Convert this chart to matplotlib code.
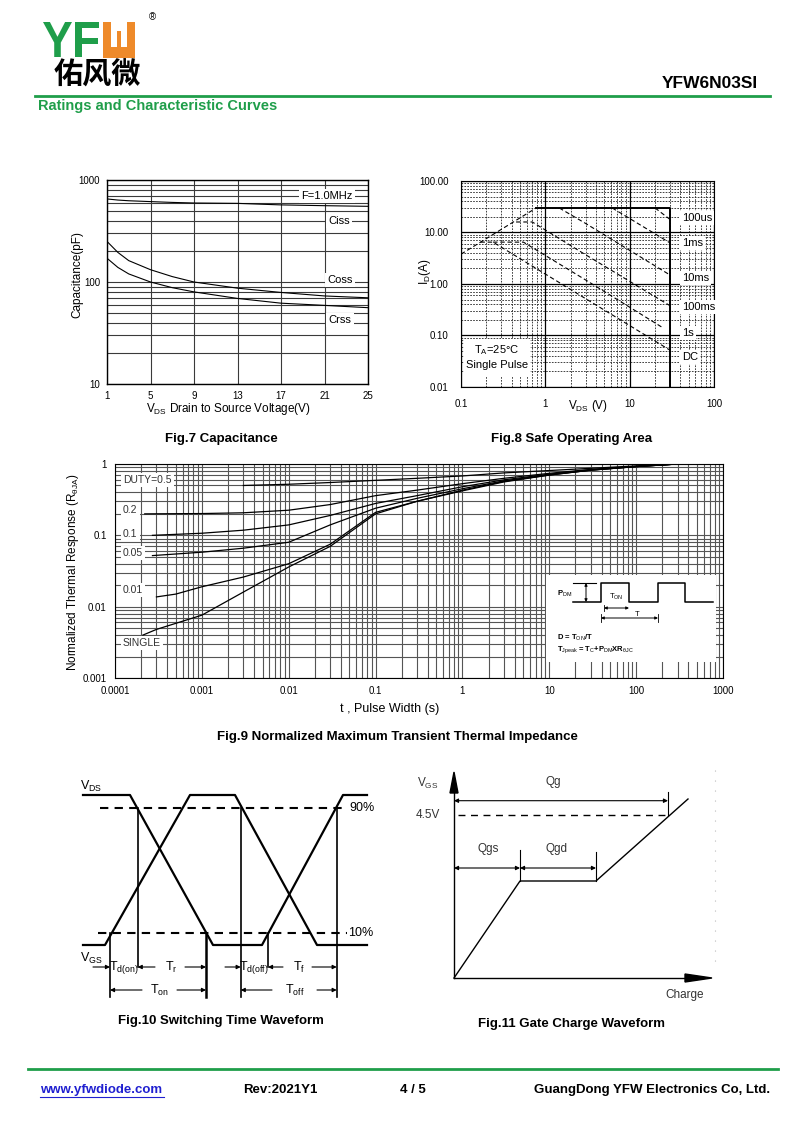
import matplotlib
matplotlib.use('Agg')
import matplotlib.pyplot as plt
from matplotlib.ticker import LogLocator, NullFormatter, NullLocator, FixedLocator
from matplotlib.patches import Rectangle, Polygon, PathPatch
from matplotlib.textpath import TextPath
from matplotlib.font_manager import FontProperties
from matplotlib.transforms import Affine2D

plt.rcParams['font.family'] = ['Liberation Sans', 'DejaVu Sans']
plt.rcParams['mathtext.fontset'] = 'custom'
plt.rcParams['mathtext.rm'] = 'Liberation Sans'
plt.rcParams['mathtext.it'] = 'Liberation Sans:italic'
plt.rcParams['mathtext.bf'] = 'Liberation Sans:bold'

W, H = 800, 1130
GREEN = '#1f9e4a'
ORANGE = '#ee8a2a'

# Fig.7 capacitance vs VDS
cap_v = [1, 2, 3, 5, 7, 9, 13, 17, 21, 25]
ciss = [652, 636, 626, 614, 603, 595, 590, 570, 560, 552]
coss = [250, 195, 162, 132, 113, 100, 87, 79, 73, 70]
crss = [171, 139, 120, 100, 88, 80, 69, 62, 59, 56]

# Fig.8 safe operating area
soa_rds_v = [0.1, 0.78]
soa_rds_i = [3.8, 30]
soa_lim_v = [0.78, 30, 30]
soa_lim_i = [30, 30, 0.01]
soa_100us_v = [20, 30]
soa_100us_i = [30, 18]
soa_1ms_v = [6.2, 30]
soa_1ms_i = [30, 6.3]
soa_10ms_v = [1.46, 3, 30]
soa_10ms_i = [30, 15, 1.5]
soa_100ms_v = [0.45, 0.7, 3, 30]
soa_100ms_i = [16, 16, 3.7, 0.38]
soa_1s_v = [0.24, 0.55, 3, 25]
soa_1s_i = [6.5, 6.5, 1.2, 0.14]
soa_dc_v = [0.17, 0.24, 3, 30]
soa_dc_i = [6.5, 6.5, 0.52, 0.052]

# Fig.9 transient thermal impedance
zt_05 = [0.003, 0.01, 0.03, 0.1, 0.3, 1, 3, 10, 30, 100, 300]
z_05 = [0.5, 0.52, 0.55, 0.59, 0.63, 0.68, 0.75, 0.81, 0.87, 0.94, 1.0]
zt_02 = [2.2e-4, 1e-3, 3e-3, 1e-2, 3e-2, 0.1, 0.3, 1, 3, 10, 30, 100, 300]
z_02 = [0.2, 0.202, 0.207, 0.225, 0.27, 0.36, 0.43, 0.53, 0.63, 0.74, 0.84, 0.93, 1.0]
zt_01 = [2.7e-4, 1e-3, 3e-3, 1e-2, 3e-2, 0.1, 0.3, 1, 3, 10, 30, 100, 300]
z_01 = [0.1, 0.107, 0.118, 0.14, 0.19, 0.28, 0.36, 0.48, 0.6, 0.72, 0.83, 0.92, 1.0]
zt_005 = [2.7e-4, 1e-3, 3e-3, 1e-2, 3e-2, 0.1, 0.3, 1, 3, 10, 30, 100, 300]
z_005 = [0.052, 0.058, 0.066, 0.08, 0.14, 0.24, 0.33, 0.45, 0.58, 0.71, 0.82, 0.92, 1.0]
zt_001 = [3e-4, 5e-4, 1e-3, 3e-3, 1e-2, 3e-2, 0.1, 0.3, 1, 3, 10, 30, 100, 300]
z_001 = [0.0137, 0.015, 0.019, 0.026, 0.04, 0.075, 0.21, 0.3, 0.43, 0.57, 0.7, 0.82, 0.92, 1.0]
zt_single = [2.1e-4, 3e-4, 1e-3, 3e-3, 1e-2, 3e-2, 0.1, 0.3, 1, 3, 10, 30, 100, 300]
z_single = [0.004, 0.0048, 0.0076, 0.016, 0.036, 0.07, 0.2, 0.3, 0.42, 0.56, 0.7, 0.82, 0.92, 1.0]

# Fig.10 switching waveform (page pixels)
sw_vgs_x = [83, 105, 190, 235, 317, 367]
sw_vgs_y = [945, 945, 795, 795, 945, 945]
sw_vds_x = [83, 130, 213, 262, 343, 367]
sw_vds_y = [795, 795, 945, 945, 795, 795]

# Fig.11 gate charge (page pixels)
gc_x = [454, 520, 596, 688]
gc_y = [978, 881, 881, 799]

fig = plt.figure(figsize=(8, 11.3), dpi=100)


def px_axes(x0, y0, x1, y1):
    return fig.add_axes([x0 / W, 1 - y1 / H, (x1 - x0) / W, (y1 - y0) / H])


bg = fig.add_axes([0, 0, 1, 1])
bg.set_xlim(0, W)
bg.set_ylim(H, 0)
bg.axis('off')
PX = bg.transData


def fit_text(s, x0, y0, x1, y1, color, prop):
    tp = TextPath((0, 0), s, prop=prop)
    bb = tp.get_extents()
    tr = (Affine2D().translate(-bb.x0, -bb.y0)
          .scale((x1 - x0) / bb.width, -(y1 - y0) / bb.height)
          .translate(x0, y1))
    bg.add_patch(PathPatch(tr.transform_path(tp), color=color, lw=0))


# ---- header ----
bold = FontProperties(family='Liberation Sans', weight='bold')
fit_text('Y', 43, 22, 72, 57, GREEN, bold)
fit_text('F', 75, 22, 99, 57, GREEN, bold)
bg.add_patch(Rectangle((103, 22), 32, 36, color=ORANGE, lw=0))
bg.add_patch(Rectangle((111, 22), 16, 25, color='white', lw=0))
bg.add_patch(Rectangle((117, 31), 4, 16, color=ORANGE, lw=0))
bg.text(152, 17, '®', fontsize=7, ha='center', va='center')
bg.text(54, 75, '佑风微', fontsize=21, fontweight='bold', va='center',
        family=['Noto Sans CJK SC', 'DejaVu Sans'])
bg.text(758, 84, 'YFW6N03SI', fontsize=12.5, fontweight='bold', ha='right', va='center')
bg.plot([35, 770], [96, 96], color=GREEN, lw=2)
bg.text(38, 106, 'Ratings and Characteristic Curves', fontsize=10.5, fontweight='bold',
        color=GREEN, va='center')

# ---- footer ----
bg.plot([28, 778], [1069, 1069], color=GREEN, lw=2)
bg.text(40, 1090, 'www.yfwdiode.com', fontsize=9.5, fontweight='bold', color='#2020d0', va='center')
bg.plot([40, 164], [1097, 1097], color='#2020d0', lw=0.8)
bg.text(243, 1090, 'Rev:2021Y1', fontsize=9.5, fontweight='bold', va='center')
bg.text(400, 1090, '4 / 5', fontsize=9.5, fontweight='bold', va='center')
bg.text(770, 1090, 'GuangDong YFW Electronics Co, Ltd.', fontsize=9.5, fontweight='bold',
        va='center', ha='right')

# ---- captions ----
cap_kw = dict(fontsize=9.5, fontweight='bold', ha='center', va='center')
bg.text(221, 439, 'Fig.7 Capacitance', **cap_kw)
bg.text(572, 439, 'Fig.8 Safe Operating Area', **cap_kw)
bg.text(397, 737, 'Fig.9 Normalized Maximum Transient Thermal Impedance', **cap_kw)
bg.text(221, 1021, 'Fig.10 Switching Time Waveform', **cap_kw)
bg.text(572, 1024, 'Fig.11 Gate Charge Waveform', **cap_kw)

# ---- Fig.7 ----
ax7 = px_axes(107, 180, 368, 384)
ax7.set_yscale('log')
ax7.set_xlim(1, 25)
ax7.set_ylim(10, 1000)
ax7.set_xticks([1, 5, 9, 13, 17, 21, 25])
ax7.xaxis.set_minor_locator(NullLocator())
ax7.set_yticks([10, 100, 1000])
ax7.set_yticklabels(['10', '100', '1000'])
ax7.yaxis.set_minor_locator(LogLocator(base=10, subs=range(2, 10)))
ax7.yaxis.set_minor_formatter(NullFormatter())
ax7.grid(which='both', color='#3a3a3a', lw=0.8)
ax7.tick_params(which='both', length=0, labelsize=7, pad=5)
for s in ax7.spines.values():
    s.set_linewidth(1)
ax7.plot(cap_v, ciss, color='k', lw=0.8)
ax7.plot(cap_v, coss, color='k', lw=0.8)
ax7.plot(cap_v, crss, color='k', lw=0.8)
lab_kw = dict(transform=PX, fontsize=8, ha='center', va='center',
              bbox=dict(fc='white', ec='none', pad=1.5))
ax7.text(327, 196, 'F=1.0MHz', **lab_kw)
ax7.text(339, 221, 'Ciss', **lab_kw)
ax7.text(340, 280, 'Coss', **lab_kw)
ax7.text(340, 320, 'Crss', **lab_kw)
bg.text(77, 275, 'Capacitance(pF)', rotation=90, fontsize=8.5, ha='center', va='center')
bg.text(228, 409, r'V$_{\rm DS}$ Drain to Source Voltage(V)', fontsize=8.5, ha='center', va='center')

# ---- Fig.8 ----
ax8 = px_axes(461, 181, 714, 387)
ax8.set_xscale('log')
ax8.set_yscale('log')
ax8.set_xlim(0.1, 100)
ax8.set_ylim(0.01, 100)
ax8.set_xticks([0.1, 1, 10, 100])
ax8.set_xticklabels(['0.1', '1', '10', '100'])
ax8.set_yticks([0.01, 0.1, 1, 10, 100])
ax8.set_yticklabels(['0.01', '0.10', '1.00', '10.00', '100.00'])
for axis in (ax8.xaxis, ax8.yaxis):
    axis.set_minor_locator(LogLocator(base=10, subs=range(2, 10)))
    axis.set_minor_formatter(NullFormatter())
ax8.grid(which='major', color='k', lw=0.9, ls='-')
ax8.grid(which='minor', color='#222222', lw=0.6, ls=(0, (2, 1.5)))
ax8.tick_params(which='both', length=0, labelsize=7, pad=9)
dash = dict(color='k', lw=0.8, ls=(0, (4, 2.5)))
ax8.plot(soa_rds_v, soa_rds_i, **dash)
ax8.plot(soa_lim_v, soa_lim_i, color='k', lw=1.4)
ax8.plot(soa_100us_v, soa_100us_i, **dash)
ax8.plot(soa_1ms_v, soa_1ms_i, **dash)
ax8.plot(soa_10ms_v, soa_10ms_i, **dash)
ax8.plot(soa_100ms_v, soa_100ms_i, **dash)
ax8.plot(soa_1s_v, soa_1s_i, **dash)
ax8.plot(soa_dc_v, soa_dc_i, **dash)
soa_kw = dict(transform=PX, fontsize=8, ha='left', va='center',
              bbox=dict(fc='white', ec='none', pad=1.5))
for txt, yy in [('100us', 218), ('1ms', 243), ('10ms', 278), ('100ms', 307), ('1s', 333), ('DC', 357)]:
    ax8.text(682, yy, txt, **soa_kw)
ax8.add_patch(Rectangle((464, 339), 66, 38, transform=PX, fc='white', ec='none', zorder=3))
ax8.text(497, 350, r'T$_{\rm A}$=25°C', transform=PX, fontsize=8, ha='center', va='center', zorder=4)
ax8.text(497, 365, 'Single Pulse', transform=PX, fontsize=8, ha='center', va='center', zorder=4)
bg.text(425, 272, r'I$_{\rm D}$(A)', rotation=90, fontsize=8.5, ha='center', va='center')
bg.text(588, 406, r'V$_{\rm DS}$ (V)', fontsize=8.5, ha='center', va='center')

# ---- Fig.9 ----
ax9 = px_axes(115, 464, 723, 678)
ax9.set_xscale('log')
ax9.set_yscale('log')
ax9.set_xlim(1e-4, 1e3)
ax9.set_ylim(1e-3, 1)
ax9.set_xticks([1e-4, 1e-3, 1e-2, 0.1, 1, 10, 100, 1000])
ax9.set_xticklabels(['0.0001', '0.001', '0.01', '0.1', '1', '10', '100', '1000'])
ax9.set_yticks([1e-3, 1e-2, 0.1, 1])
ax9.set_yticklabels(['0.001', '0.01', '0.1', '1'])
for axis in (ax9.xaxis, ax9.yaxis):
    axis.set_minor_locator(LogLocator(base=10, subs=range(2, 10)))
    axis.set_minor_formatter(NullFormatter())
ax9.grid(which='both', color='#555555', lw=0.8)
ax9.tick_params(which='both', length=0, labelsize=7, pad=6)
for t, z in [(zt_05, z_05), (zt_02, z_02), (zt_01, z_01), (zt_005, z_005),
             (zt_001, z_001), (zt_single, z_single)]:
    ax9.plot(t, z, color='k', lw=0.9)
z_kw = dict(transform=PX, fontsize=7.5, ha='left', va='center', color='#333333',
            bbox=dict(fc='white', ec='none', pad=1.5))
for txt, yy in [('DUTY=0.5', 480), ('0.2', 510), ('0.1', 534), ('0.05', 553),
                ('0.01', 590), ('SINGLE', 643)]:
    ax9.text(123, yy, txt, **z_kw)
bg.text(73, 572, r'Normalized Thermal Response (R$_{\rm θJA}$)', rotation=90, fontsize=8.5,
        ha='center', va='center')
bg.text(390, 709, 't , Pulse Width (s)', fontsize=9, ha='center', va='center')

# inset pulse diagram
ins = px_axes(546, 575, 716, 662)
ins.set_xlim(546, 716)
ins.set_ylim(662, 575)
ins.axis('off')
ins.add_patch(Rectangle((546, 575), 170, 87, fc='white', ec='none'))
pulse_x = [573, 601, 601, 629, 629, 658, 658, 685, 685, 713]
pulse_y = [602, 602, 583, 583, 602, 602, 583, 583, 602, 602]
ins.plot(pulse_x, pulse_y, color='k', lw=1.1)
ins.plot([573, 596], [583, 583], color='k', lw=0.8)
arr = dict(arrowstyle='<|-|>', lw=0.7, color='k', mutation_scale=4, shrinkA=0, shrinkB=0)
ins.annotate('', xy=(586, 583), xytext=(586, 602), arrowprops=arr)
ins.annotate('', xy=(604, 608), xytext=(629, 608), arrowprops=arr)
ins.annotate('', xy=(601, 618), xytext=(658, 618), arrowprops=arr)
ins.plot([601, 601], [614, 622], color='k', lw=0.6)
ins.plot([658, 658], [614, 622], color='k', lw=0.6)
ins.plot([604, 604], [605, 611], color='k', lw=0.6)
ins_kw = dict(fontsize=5.5, fontweight='bold', va='center')
ins.text(557, 594, r'P$_{\rm DM}$', **ins_kw)
ins.text(609, 597, r'T$_{\rm ON}$', fontsize=5.5, va='center')
ins.text(635, 614, 'T', fontsize=5.5, va='center')
ins.text(557, 638, r'D = T$_{\rm ON}$/T', **ins_kw)
ins.text(557, 650, r'T$_{\rm Jpeak}$ = T$_{\rm C}$+P$_{\rm DM}$XR$_{\rm θJC}$', **ins_kw)

# ---- Fig.10 ----
bg.plot(sw_vgs_x, sw_vgs_y, color='k', lw=1.6)
bg.plot(sw_vds_x, sw_vds_y, color='k', lw=1.6)
bg.plot([100, 347], [807.7, 807.7], color='k', lw=1.5, ls=(0, (4, 3)))
bg.plot([98, 347], [933.3, 933.3], color='k', lw=1.5, ls=(0, (4, 3)))
for xv, y0, y1, lw in [(110, 933, 997, 1.2), (137.7, 808, 967, 1.2), (206, 933, 997, 1.8),
                       (240.7, 808, 997, 1.2), (268, 933, 967, 1.2), (336.7, 808, 997, 1.2)]:
    bg.plot([xv, xv], [y0, y1], color='k', lw=lw)
one = dict(arrowstyle='-|>', lw=0.8, color='k', mutation_scale=6, shrinkA=0, shrinkB=0)
for x0, x1, yy in [(93, 110, 967), (155, 137.7, 967), (185, 206, 967),
                   (225, 240.7, 967), (283, 268, 967), (312, 336.7, 967),
                   (142, 110, 990), (177, 206, 990), (272, 240.7, 990), (317, 336.7, 990)]:
    bg.annotate('', xy=(x1, yy), xytext=(x0, yy), arrowprops=one)
sw_kw = dict(fontsize=9, ha='center', va='center')
bg.text(124, 967, r'T$_{\rm d(on)}$', **sw_kw)
bg.text(171, 967, r'T$_{\rm r}$', **sw_kw)
bg.text(254, 967, r'T$_{\rm d(off)}$', **sw_kw)
bg.text(299, 967, r'T$_{\rm f}$', **sw_kw)
bg.text(159, 990, r'T$_{\rm on}$', **sw_kw)
bg.text(295, 990, r'T$_{\rm off}$', **sw_kw)
bg.text(80, 786, r'V$_{\rm DS}$', fontsize=9, va='center')
bg.text(80, 958, r'V$_{\rm GS}$', fontsize=9, va='center')
bg.text(349, 808, '90%', fontsize=9, va='center')
bg.text(348, 933, '10%', fontsize=9, va='center')

# ---- Fig.11 ----
bg.plot([715, 715], [770, 970], color='#bbbbbb', lw=0.8, ls=(0, (1, 8)))
bg.plot([454, 454], [978, 792], color='k', lw=1)
bg.add_patch(Polygon([(450, 793), (458, 793), (454, 772)], closed=True, color='k'))
bg.plot([454, 686], [978, 978], color='k', lw=1)
bg.add_patch(Polygon([(685, 974), (685, 982), (712, 978)], closed=True, color='k'))
bg.plot(gc_x, gc_y, color='k', lw=1)
bg.plot([458, 667], [815, 815], color='k', lw=1, ls=(0, (5, 4)))
two = dict(arrowstyle='<|-|>', lw=0.8, color='k', mutation_scale=6, shrinkA=0, shrinkB=0)
bg.annotate('', xy=(454, 800.7), xytext=(668, 800.7), arrowprops=two)
bg.annotate('', xy=(454, 868), xytext=(520, 868), arrowprops=two)
bg.annotate('', xy=(520, 868), xytext=(596, 868), arrowprops=two)
bg.plot([668, 668], [792, 815], color='k', lw=0.8)
bg.plot([520, 520], [850, 881], color='k', lw=0.8)
bg.plot([596, 596], [852, 881], color='k', lw=0.8)
gc_kw = dict(fontsize=8.5, ha='center', va='center', color='#333333')
bg.text(553, 782, 'Qg', **gc_kw)
bg.text(488, 849, 'Qgs', **gc_kw)
bg.text(557, 849, 'Qgd', **gc_kw)
bg.text(428, 815, '4.5V', **gc_kw)
bg.text(428, 783, r'V$_{\rm GS}$', **gc_kw)
bg.text(685, 995, 'Charge', **gc_kw)

fig.savefig('out.png', dpi=100, facecolor='white')
